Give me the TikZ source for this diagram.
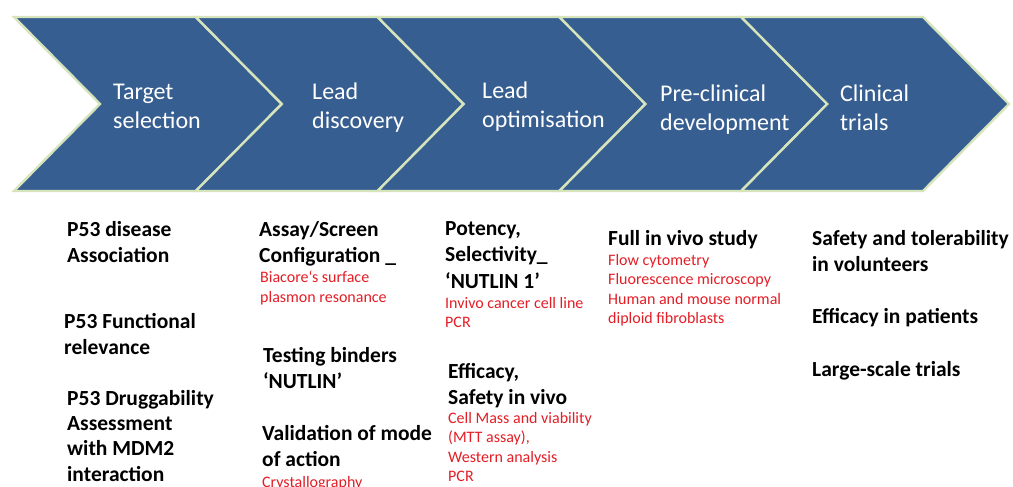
\documentclass[tikz,border=0pt]{standalone}
\usepackage{fontspec}
\setmainfont{Carlito}
\usetikzlibrary{positioning}
\definecolor{chevblue}{RGB}{55,94,145}
\definecolor{chevrim}{RGB}{214,228,188}
\definecolor{notered}{RGB}{228,30,38}
\begin{document}
\begin{tikzpicture}
[x=1pt,y=-1pt,
chev/.style={fill=chevblue,draw=chevrim,line width=2.4pt,line join=miter},
stage/.style={anchor=west,align=left,text=white,inner sep=0pt,font=\fontsize{24}{29}\selectfont},
task/.style={anchor=north west,align=left,inner sep=0pt,font=\bfseries\fontsize{21.5}{26.5}\selectfont},
method/.style={anchor=north west,align=left,inner sep=0pt,text=notered,font=\fontsize{16}{19.5}\selectfont}]
\useasboundingbox[fill=white] (0,0) rectangle (1013,487);
%%
% chevrons
%%
\foreach \i in {0,...,4}
  \draw[chev] (14+181.8*\i,17) -- ++(181.8,0) -- ++(86,87) -- ++(-86,87)
    -- ++(-181.8,0) -- ++(86,-87) -- cycle;
\node[stage] (target) at (113,106) {Target\\selection};
\node[stage] (discovery) at (312,108) {Lead\\discovery};
\node[stage] (optimisation) at (482,107) {Lead\\optimisation};
\node[stage] (preclinical) at (660,110) {Pre-clinical\\development};
\node[stage] (clinical) at (840,108) {Clinical\\trials};
%%
% target selection
%%
\path (67,221) node[task] (assoc) {P53 disease\\Association}
++(-3,92) node[task] (func) {P53 Functional\\relevance}
++(3,77) node[task,font=\bfseries\fontsize{21.5}{25.3}\selectfont] (drug)
  {P53 Druggability\\Assessment\\with MDM2\\interaction};
%%
% lead discovery
%%
\path (259,221) node[task] (assay) {Assay/Screen\\Configuration \_}
++(1,50) node[method] (biacore) {Biacore`s surface\\plasmon resonance}
++(3,76) node[task] (binders) {Testing binders\\`NUTLIN'}
++(-1,78) node[task] (mode) {Validation of mode\\of action}
++(0,51) node[method] (crystal) {Crystallography};
%%
% lead optimisation
%%
\path (445,221) node[task] (potency) {Potency,\\Selectivity\_\\`NUTLIN 1'}
++(0,76) node[method] (invivo) {Invivo cancer cell line\\PCR}
++(3,66) node[task] (efficacy) {Efficacy,\\Safety in vivo}
++(0,49) node[method] (viability) {Cell Mass and viability\\(MTT assay),\\Western analysis\\PCR};
%%
% pre-clinical development
%%
\path (608,230) node[task] (study) {Full in vivo study}
++(0,24) node[method] (flow) {Flow cytometry\\Fluorescence microscopy\\Human and mouse normal\\diploid fibroblasts};
%%
% clinical trials
%%
\path (812,230) node[task] (safety) {Safety and tolerability\\in volunteers}
++(0,78) node[task] (patients) {Efficacy in patients}
++(0,53) node[task] (large) {Large-scale trials};
\end{tikzpicture}
\end{document}
